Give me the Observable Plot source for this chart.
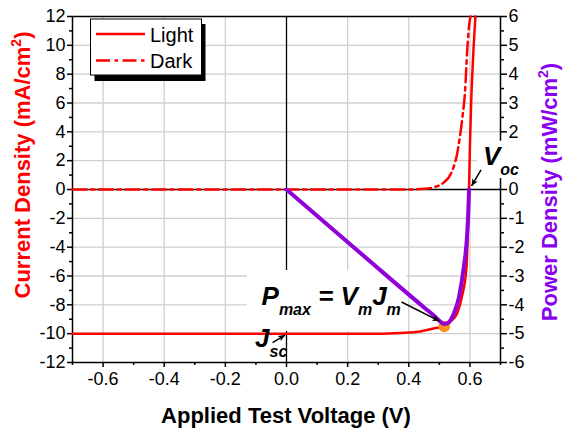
<!DOCTYPE html>
<html>
<head>
<meta charset="utf-8">
<script src="https://cdn.jsdelivr.net/npm/d3@7"></script>
<script src="https://cdn.jsdelivr.net/npm/@observablehq/plot@0.6"></script>
<style>
  html, body { margin: 0; padding: 0; background: #fff; }
  svg text { font-family: "Liberation Sans", Arial, sans-serif; }
</style>
</head>
<body>
<div id="chart"></div>
<script>
// ---- data ----
const lightV = [-0.7, 0.3, 0.373, 0.438, 0.481, 0.518, 0.533, 0.558, 0.574, 0.589, 0.593, 0.596, 0.597, 0.600, 0.604, 0.610, 0.618];
const lightJ = [-10, -10, -9.95, -9.85, -9.64, -9.5, -9.23, -8.6, -7.42, -5.34, -3.05, -1.0, 0, 3, 6, 9, 12];

const darkV = [-0.7, 0.40, 0.45, 0.48, 0.513, 0.540, 0.557, 0.567, 0.576, 0.584, 0.591, 0.598, 0.602];
const darkJ = [0, 0, 0.05, 0.15, 0.46, 1.2, 2.36, 3.63, 5.1, 6.8, 9.6, 11.5, 12];

const powerV = [0, 0.25, 0.45, 0.482, 0.50, 0.515, 0.526, 0.547, 0.564, 0.580, 0.591, 0.596, 0.597];
const powerP = [0, -2.28, -4.09, -4.37, -4.55, -4.66, -4.64, -4.31, -3.74, -2.69, -1.54, -0.38, 0];

const maxPointV = [0.516];
const maxPointJ = [-9.5];

const xMajor = [-0.6, -0.4, -0.2, 0, 0.2, 0.4, 0.6];
const xMinor = [-0.7, -0.5, -0.3, -0.1, 0.1, 0.3, 0.5, 0.7];
const yMajor = [-12, -10, -8, -6, -4, -2, 0, 2, 4, 6, 8, 10, 12];
const yMinor = [-11, -9, -7, -5, -3, -1, 1, 3, 5, 7, 9, 11];
const pMajor = [-6, -5, -4, -3, -2, -1, 0, 1, 2, 3, 4, 5, 6];
const pMinor = [-5.5, -4.5, -3.5, -2.5, -1.5, -0.5, 0.5, 1.5, 2.5, 3.5, 4.5, 5.5];
const pHiddenLabel = 1; // covered by the V_oc label in the reference

const seriesNames = ["Light", "Dark"];

// ---- tables for Plot ----
const light = lightV.map((v, i) => ({V: v, J: lightJ[i]}));
const dark = darkV.map((v, i) => ({V: v, J: darkJ[i]}));
const pRatio = 12 / 6; // left axis span / right axis span
const power = powerV.map((v, i) => ({V: v, P: powerP[i]}));
const maxPt = maxPointV.map((v, i) => ({V: v, J: maxPointJ[i]}));

const RED = "#ff0000", PURPLE = "#9000d8", PURPLE_TXT = "#8a00f0", ORANGE = "#ff8f1a";
const GRID = "#cfcfcf";
const fontFam = '"Liberation Sans", Arial, sans-serif';
const noLabel = () => "";

// annotation boxes (data coordinates)
const pmaxBox = {x1: -0.128, x2: 0.394, y1: -5.62, y2: -9.85};
const vocBox = {x1: 0.624, x2: 0.77, y1: 3.35, y2: 0.76};

const chart = Plot.plot({
  width: 563, height: 434,
  marginLeft: 72, marginRight: 63, marginTop: 16, marginBottom: 72,
  style: {fontFamily: fontFam, background: "white", overflow: "visible", color: "black"},
  x: {domain: [-0.7, 0.7]},
  y: {domain: [-12, 12]},
  marks: [
    Plot.gridX(xMajor.filter(d => d !== 0), {stroke: GRID, strokeOpacity: 1, strokeWidth: 1.3}),
    Plot.gridY(yMajor.filter(d => d !== 0 && Math.abs(d) !== 12), {stroke: GRID, strokeOpacity: 1, strokeWidth: 1.3}),
    Plot.ruleX([0], {stroke: "black", strokeWidth: 1.3}),
    Plot.ruleY([0], {stroke: "black", strokeWidth: 1.3}),
    Plot.frame({stroke: "black", strokeWidth: 1.5}),
    Plot.axisX(xMajor, {anchor: "bottom", tickSize: 5, tickPadding: 5, fontSize: 18, strokeWidth: 1.5, tickFormat: d => d.toFixed(1), label: null}),
    Plot.axisX(xMinor, {anchor: "bottom", tickSize: 3, strokeWidth: 1.5, tickFormat: noLabel, label: null}),
    Plot.axisY(yMajor, {anchor: "left", tickSize: 5, tickPadding: 2, fontSize: 18, strokeWidth: 1.5, tickFormat: d => String(d), label: null}),
    Plot.axisY(yMinor, {anchor: "left", tickSize: 3, strokeWidth: 1.5, tickFormat: noLabel, label: null}),
    Plot.axisY(pMajor.map(p => p * pRatio), {anchor: "right", tickSize: 6, tickPadding: 2, fontSize: 18, strokeWidth: 1.5,
      tickFormat: d => (d / pRatio === pHiddenLabel ? "" : String(d / pRatio)), label: null}),
    Plot.axisY(pMinor.map(p => p * pRatio), {anchor: "right", tickSize: 3, strokeWidth: 1.5, tickFormat: noLabel, label: null}),
    Plot.rect([pmaxBox], {x1: "x1", x2: "x2", y1: "y1", y2: "y2", fill: "white"}),
    Plot.rect([vocBox], {x1: "x1", x2: "x2", y1: "y1", y2: "y2", fill: "white"}),
    Plot.line(dark, {x: "V", y: "J", stroke: RED, strokeWidth: 2.5, strokeDasharray: "14,4.5,3.5,4.5", curve: "monotone-x"}),
    Plot.line(light, {x: "V", y: "J", stroke: RED, strokeWidth: 2.5, curve: "monotone-x"}),
    Plot.dot(maxPt, {x: "V", y: "J", r: 5.8, fill: ORANGE, stroke: "none"}),
    Plot.line(power, {x: "V", y: d => d.P * pRatio, stroke: PURPLE, strokeWidth: 4, curve: "monotone-x"})
  ]
});
document.getElementById("chart").appendChild(chart);

// ---- annotations, titles, legend ----
const svg = d3.select(chart);
const X = chart.scale("x"), Y = chart.scale("y");
const px = v => X.apply(v), py = j => Y.apply(j);

svg.append("defs").append("marker")
  .attr("id", "ah").attr("viewBox", "0 0 10 10").attr("refX", 10).attr("refY", 5)
  .attr("markerWidth", 9).attr("markerHeight", 7).attr("markerUnits", "userSpaceOnUse")
  .attr("orient", "auto")
  .append("path").attr("d", "M0,0.5 L10,5 L0,9.5 L2.5,5 z").attr("fill", "black");

function arrow(a, b) {
  svg.append("line")
    .attr("x1", px(a[0])).attr("y1", py(a[1]))
    .attr("x2", px(b[0])).attr("y2", py(b[1]))
    .attr("stroke", "black").attr("stroke-width", 1.5)
    .attr("marker-end", "url(#ah)");
}

function subLabel(x, y, parts) {
  const t = svg.append("text").attr("x", px(x)).attr("y", py(y))
    .attr("text-anchor", "start")
    .attr("font-weight", "bold").attr("font-style", "italic")
    .attr("fill", "black").style("white-space", "pre");
  let shifted = false;
  for (const [str, sub] of parts) {
    const dy = sub && !shifted ? 10 : (!sub && shifted ? -10 : 0);
    shifted = sub;
    t.append("tspan").attr("dy", dy).attr("font-size", sub ? 16 : 26).text(str);
  }
}

// V_oc
subLabel(0.644, 1.66, [["V", false], ["oc", true]]);
arrow([0.638, 1.32], [0.607, 0.21]);
// P_max = V_m J_m
subLabel(-0.080, -8.05, [["P", false], ["max", true], [" = V", false], ["m", true], ["J", false], ["m", true]]);
arrow([0.378, -7.84], [0.502, -9.16]);
// J_sc
subLabel(-0.101, -10.96, [["J", false], ["sc", true]]);
arrow([-0.044, -10.66], [-0.003, -10.13]);

// axis titles
svg.append("text").attr("x", 286).attr("y", 423).attr("text-anchor", "middle")
  .attr("font-size", 22).attr("font-weight", "bold").attr("fill", "black")
  .text("Applied Test Voltage (V)");

function yTitle(x, y, main, color) {
  const t = svg.append("text").attr("transform", `translate(${x},${y}) rotate(-90)`)
    .attr("text-anchor", "middle").attr("font-size", 22).attr("font-weight", "bold").attr("fill", color);
  t.append("tspan").text(main);
  t.append("tspan").attr("font-size", 14).attr("dy", -9).text("2");
  t.append("tspan").attr("dy", 9).text(")");
}
yTitle(30, 165, "Current Density (mA/cm", RED);
yTitle(557, 192, "Power Density (mW/cm", PURPLE_TXT);

// legend
const lg = svg.append("g").attr("text-anchor", "start");
lg.append("rect").attr("x", 94.5).attr("y", 24).attr("width", 111).attr("height", 57).attr("fill", "black");
lg.append("rect").attr("x", 90.5).attr("y", 19).attr("width", 111).attr("height", 56)
  .attr("fill", "white").attr("stroke", "black").attr("stroke-width", 1);
const legendRows = [{y: 34, dash: null}, {y: 60.5, dash: "14,4.5,3.5,4.5"}];
legendRows.forEach((r, i) => {
  lg.append("line").attr("x1", 96).attr("x2", 145).attr("y1", r.y).attr("y2", r.y)
    .attr("stroke", RED).attr("stroke-width", 2.5).attr("stroke-dasharray", r.dash);
  lg.append("text").attr("x", 150).attr("y", r.y + 7.5).attr("text-anchor", "start")
    .attr("font-size", 20).attr("fill", "black").text(seriesNames[i]);
});
</script>
</body>
</html>
